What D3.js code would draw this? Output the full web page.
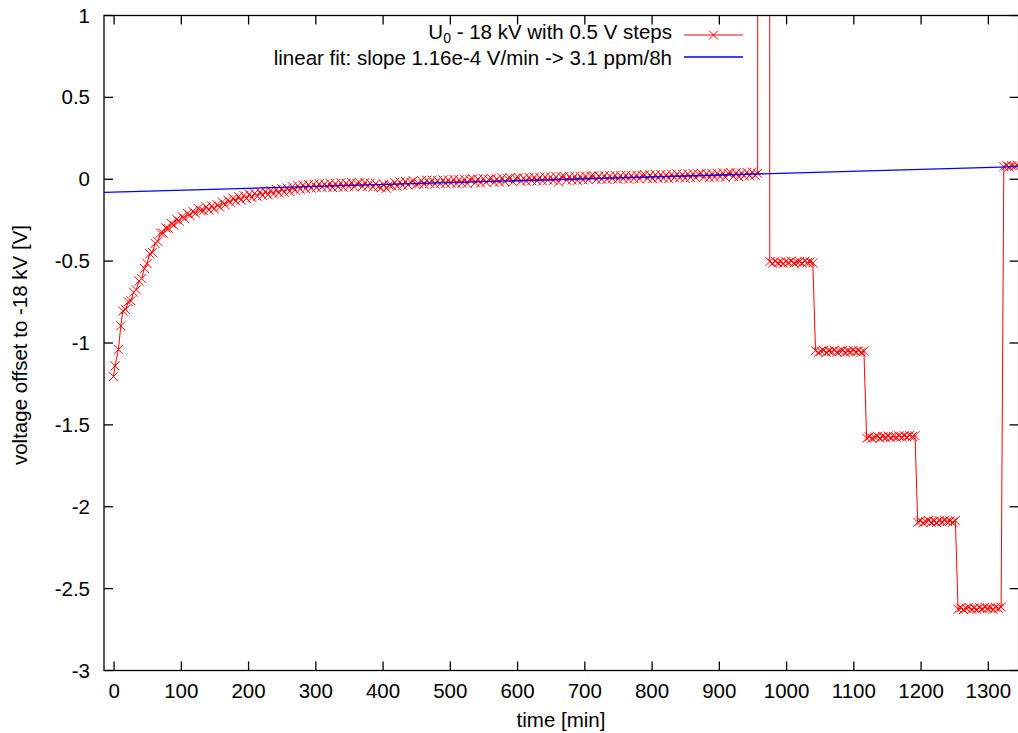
<!DOCTYPE html>
<html>
<head>
<meta charset="utf-8">
<script src="https://cdn.jsdelivr.net/npm/d3@7"></script>
<style>
  html, body { margin: 0; padding: 0; background: #fff; }
  svg { display: block; }
  text { font-family: "Liberation Sans", Arial, sans-serif; font-size: 20.5px; fill: #000; }
</style>
</head>
<body>
<svg id="chart" width="1018" height="733"></svg>
<script>
// ---------- data ----------
const xTicks = [0, 100, 200, 300, 400, 500, 600, 700, 800, 900, 1000, 1100, 1200, 1300];
const yTicks = [-3, -2.5, -2, -1.5, -1, -0.5, 0, 0.5, 1];
const yTickLabels = ["-3", "-2.5", "-2", "-1.5", "-1", "-0.5", "0", "0.5", "1"];
const xDomain = [-15, 1345];
const yDomain = [-3, 1];

// warm-up phase: first sparse samples
const warmupTimes = [-1, 1.5, 6.4, 10];
const warmupValues = [-1.205, -1.14, -1.04, -0.895];

// settling phase, sampled every 4 min from t = 13 min
const settleStart = 13;
const sampleStep = 4;
const settleValues = [
  -0.805, -0.795, -0.748, -0.742, -0.690, -0.675, -0.622, -0.606, -0.545, -0.515,
  -0.455, -0.447, -0.392, -0.380, -0.328, -0.330, -0.297, -0.302, -0.270, -0.281,
  -0.245, -0.256, -0.228, -0.240, -0.209, -0.221, -0.196, -0.208, -0.178, -0.190,
  -0.193, -0.168, -0.187, -0.163, -0.181, -0.155, -0.170, -0.139, -0.156, -0.127,
  -0.141, -0.116, -0.133, -0.106, -0.127, -0.099, -0.118, -0.091, -0.112, -0.086,
  -0.105, -0.079, -0.099, -0.073, -0.095, -0.068, -0.090, -0.062, -0.084, -0.058,
  -0.080, -0.053, -0.074, -0.045, -0.067, -0.040, -0.061, -0.036, -0.058, -0.032,
  -0.055, -0.030, -0.052, -0.028, -0.049, -0.029, -0.048, -0.024, -0.051, -0.026,
  -0.047, -0.022, -0.049, -0.024, -0.044, -0.019, -0.046, -0.026, -0.021, -0.045,
  -0.020, -0.043, -0.024, -0.048, -0.027, -0.046, -0.052, -0.031, -0.055, -0.036,
  -0.040, -0.019, -0.043, -0.016, -0.037, -0.013, -0.035, -0.017, -0.010, -0.033,
  -0.028, -0.008, -0.030, -0.006, -0.026, -0.005, -0.029, -0.008, -0.027, -0.004,
  -0.027, -0.004, -0.025, 0.000, -0.028, -0.003, -0.024, 0.001, -0.026, -0.002,
  0.003, -0.021, 0.001, -0.023, 0.004, -0.019, -0.001, 0.006, -0.020, 0.002,
  -0.017, 0.008, -0.015, 0.004, 0.009, -0.016, 0.005, 0.010, -0.013, 0.007,
  -0.012, 0.011, -0.009, 0.013, -0.010, 0.012, -0.011, 0.015, -0.006, 0.014,
  -0.008, 0.016, -0.017, 0.015, 0.018, -0.006, 0.017, -0.004, 0.019, -0.007,
  0.018, -0.004, 0.020, -0.003, 0.019, 0.021, -0.002, 0.020, 0.000, 0.022,
  -0.001, 0.021, 0.003, 0.024, 0.000, 0.022, 0.004, 0.025, 0.001, 0.023,
  0.004, 0.026, 0.002, 0.024, 0.027, 0.005, 0.026, 0.003, 0.028, 0.006,
  0.029, 0.007, 0.027, 0.004, 0.031, 0.009, 0.032, 0.008, 0.030, 0.006,
  0.033, 0.010, 0.034, 0.009, 0.031, 0.036, 0.012, 0.034, 0.010, 0.035,
  0.013, 0.037, 0.016, 0.039, 0.012, 0.036, 0.041, 0.017, 0.040, 0.015,
  0.038, 0.020, 0.042, 0.022, 0.044, 0.024, 0.036
];

// off-scale excursion while switching to the step program
const spikeTimes = [959, 973];
const spikeValues = [40, 40];

// 0.5 V step plateaus (start time in min, values sampled every 4 min)
const stepStarts = [975, 1043, 1119, 1195, 1255, 1323];
const step1 = [-0.503, -0.513, -0.501, -0.510, -0.505, -0.514, -0.502, -0.509, -0.500, -0.512, -0.506, -0.503, -0.513, -0.501, -0.509, -0.505, -0.511];
const step2 = [-1.047, -1.058, -1.050, -1.045, -1.057, -1.049, -1.054, -1.044, -1.056, -1.050, -1.046, -1.057, -1.049, -1.054, -1.045, -1.053, -1.047, -1.056, -1.050];
const step3 = [-1.581, -1.573, -1.582, -1.575, -1.570, -1.580, -1.572, -1.576, -1.568, -1.577, -1.570, -1.575, -1.567, -1.574, -1.566, -1.573, -1.564, -1.571, -1.566];
const step4 = [-2.095, -2.087, -2.097, -2.090, -2.084, -2.094, -2.088, -2.096, -2.085, -2.092, -2.083, -2.091, -2.087, -2.094, -2.085];
const step5 = [-2.626, -2.618, -2.628, -2.620, -2.615, -2.625, -2.619, -2.627, -2.616, -2.623, -2.614, -2.621, -2.618, -2.626, -2.615, -2.620, -2.613];
const step6 = [0.077, 0.085, 0.075, 0.083, 0.079, 0.086];
const stepValues = [step1, step2, step3, step4, step5, step6];

// linear fit: [intercept V, slope V/min]
const fitParams = [-0.0785, 1.16e-4];

const legendLabels = ["U0 - 18 kV with 0.5 V steps", "linear fit: slope 1.16e-4 V/min -> 3.1 ppm/8h"];
const xLabel = "time [min]";
const yLabel = "voltage offset to -18 kV [V]";

// ---------- build series ----------
const series = [];
warmupTimes.forEach((t, i) => series.push([t, warmupValues[i]]));
settleValues.forEach((v, i) => series.push([settleStart + i * sampleStep, v]));
const spikeIdx = [];
spikeTimes.forEach((t, i) => { spikeIdx.push(series.length); series.push([t, spikeValues[i]]); });
stepValues.forEach((vals, s) => vals.forEach((v, i) => series.push([stepStarts[s] + i * sampleStep, v])));
const markerPts = series.filter((d, i) => !spikeIdx.includes(i));

// ---------- layout ----------
const svg = d3.select("#chart");
const L = 104, R = 1018.6, T = 15.5, B = 670.5;
const x = d3.scaleLinear().domain(xDomain).range([L, R]);
const y = d3.scaleLinear().domain(yDomain).range([B, T]);

svg.append("defs").append("clipPath").attr("id", "clip")
  .append("rect").attr("x", L).attr("y", T).attr("width", R - L).attr("height", B - T);

const red = "#ff0000", blue = "#0000ff";

// data line
const plot = svg.append("g").attr("clip-path", "url(#clip)");
plot.append("path")
  .datum(series)
  .attr("fill", "none").attr("stroke", red).attr("stroke-width", 1)
  .attr("d", d3.line().x(d => x(d[0])).y(d => y(d[1])));

// cross markers
const ms = 4.5;
function crossPath(cx, cy) {
  return `M${cx - ms},${cy - ms}L${cx + ms},${cy + ms}M${cx - ms},${cy + ms}L${cx + ms},${cy - ms}`;
}
plot.append("path")
  .attr("fill", "none").attr("stroke", red).attr("stroke-width", 1)
  .attr("d", markerPts.map(d => crossPath(x(d[0]), y(d[1]))).join(""));

// fit line
plot.append("path")
  .datum(xDomain)
  .attr("fill", "none").attr("stroke", blue).attr("stroke-width", 1.3)
  .attr("d", d3.line().x(t => x(t)).y(t => y(fitParams[0] + fitParams[1] * t)));

// ---------- axes ----------
const axisG = svg.append("g").attr("stroke", "#000").attr("stroke-width", 1.3).attr("fill", "none");
axisG.append("rect").attr("x", L).attr("y", T).attr("width", R - L).attr("height", B - T);
const tl = 9;
xTicks.forEach(t => {
  const xx = x(t);
  axisG.append("line").attr("x1", xx).attr("x2", xx).attr("y1", B).attr("y2", B - tl);
  axisG.append("line").attr("x1", xx).attr("x2", xx).attr("y1", T).attr("y2", T + tl);
});
yTicks.forEach(v => {
  const yy = y(v);
  axisG.append("line").attr("x1", L).attr("x2", L + tl).attr("y1", yy).attr("y2", yy);
  axisG.append("line").attr("x1", R).attr("x2", R - tl).attr("y1", yy).attr("y2", yy);
});

svg.append("g").selectAll("text").data(xTicks).join("text")
  .attr("x", d => x(d)).attr("y", 698)
  .attr("text-anchor", "middle").text(d => d);
svg.append("g").selectAll("text").data(yTicks).join("text")
  .attr("x", 90).attr("y", d => y(d) + 7)
  .attr("text-anchor", "end").text((d, i) => yTickLabels[i]);

svg.append("text").attr("x", 561).attr("y", 727).attr("text-anchor", "middle").text(xLabel);
svg.append("text")
  .attr("transform", "translate(27,345) rotate(-90)")
  .attr("text-anchor", "middle").text(yLabel);

// ---------- legend ----------
const lg = svg.append("g");
const lx0 = 684, lx1 = 743, textX = 672;
const rows = [35, 57];
const t1 = lg.append("text").attr("x", textX).attr("y", 39).attr("text-anchor", "end");
t1.append("tspan").text("U");
t1.append("tspan").attr("dy", 4).attr("font-size", "14px").text("0");
t1.append("tspan").attr("dy", -4).text(legendLabels[0].slice(2));
lg.append("line").attr("x1", lx0).attr("x2", lx1).attr("y1", rows[0]).attr("y2", rows[0])
  .attr("stroke", red).attr("stroke-width", 1);
lg.append("path").attr("fill", "none").attr("stroke", red).attr("stroke-width", 1)
  .attr("d", crossPath((lx0 + lx1) / 2, rows[0]));
lg.append("text").attr("x", textX).attr("y", 65).attr("text-anchor", "end").text(legendLabels[1]);
lg.append("line").attr("x1", lx0).attr("x2", lx1).attr("y1", rows[1]).attr("y2", rows[1])
  .attr("stroke", blue).attr("stroke-width", 1.3);
</script>
</body>
</html>
